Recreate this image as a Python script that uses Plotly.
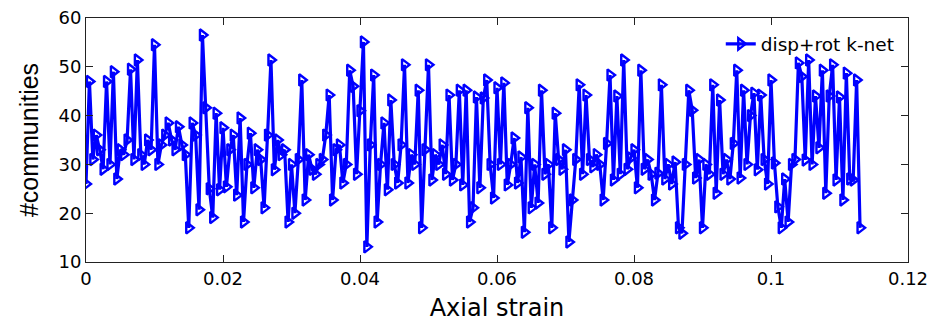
import plotly.graph_objects as go

# Axial strain (step 0.0005) and number of communities
strain = [round(i * 0.0005, 4) for i in range(227)]
communities = [
    26, 47, 31, 36, 33, 29, 47, 30, 49, 27,
    33, 32, 35, 49.5, 31, 51.4, 32, 30, 35, 33,
    54.5, 30, 34, 36, 38.5, 35, 33, 37.7, 34, 32,
    17, 38.5, 36, 20.7, 56.5, 41.6, 25, 19.1, 40.5, 24.8,
    37.5, 25.4, 33, 36, 23.7, 39.5, 18.2, 30, 36.4, 25.2,
    33, 31, 21.1, 36, 51.4, 28.9, 35, 32, 33, 18.2,
    30, 20, 31, 47.3, 22.7, 32, 29, 28, 30, 31,
    36, 44.2, 22.7, 33, 34, 26.2, 30, 49.3, 46, 28,
    41, 55.1, 13.1, 34, 48.3, 18.2, 30, 38.5, 24.8, 43.2,
    30, 26.2, 34, 50.4, 26.2, 32, 30, 45.2, 17, 33,
    50.4, 26.8, 32, 30, 34, 28, 44.2, 26.8, 30, 45.2,
    25.8, 45.2, 18.2, 21.1, 43.8, 25.2, 43.6, 47.3, 30, 23.1,
    45.7, 30, 46.7, 25.8, 30, 35.4, 26.2, 31.5, 16.1, 41.6,
    21.1, 30, 22.1, 45.2, 28, 30, 17, 40.5, 31, 29,
    33, 14.1, 22.7, 31, 46.3, 28, 44.2, 31, 29.5, 32,
    30, 22.7, 34.3, 48.3, 26.8, 44, 28, 51.4, 29, 31.3,
    33, 25.2, 49.3, 29, 31, 28, 22.7, 28.2, 46.3, 27,
    30, 26, 30.5, 17, 15.9, 30, 45.2, 41.1, 27.2, 31,
    17, 30, 28, 46.3, 24.1, 43.2, 28, 31, 27, 34.3,
    49.3, 27.2, 45.2, 30, 40, 44.6, 28.9, 44.2, 31, 26,
    47.3, 30.3, 21.3, 17, 27, 18.2, 30, 31, 50.8, 48,
    30.9, 51.4, 30, 44, 33.4, 49.3, 24.1, 44, 50.4, 26.8,
    43.8, 22.7, 48.7, 27, 26.8, 47.3, 17,
]

x_ticks = [0, 0.02, 0.04, 0.06, 0.08, 0.1, 0.12]
x_ticktext = ["0", "0.02", "0.04", "0.06", "0.08", "0.1", "0.12"]
y_ticks = [10, 20, 30, 40, 50, 60]

blue = "rgb(0,0,255)"
wide_font = "DejaVu Sans, Verdana, sans-serif"
narrow_font = "Liberation Sans, Arial, sans-serif"

fig = go.Figure()
fig.add_trace(go.Scatter(
    x=strain, y=communities, mode="lines+markers", name="disp+rot k-net",
    line=dict(color=blue, width=3.2),
    marker=dict(symbol="triangle-right-open", size=10, color=blue,
                line=dict(color=blue, width=2.4)),
))

axis_common = dict(
    showline=True, linecolor="#222222", linewidth=1, mirror="ticks",
    ticks="inside", ticklen=7, tickcolor="#222222", showgrid=False,
    zeroline=False, automargin=False, ticklabeloverflow="allow",
    tickfont=dict(size=18, color="black", family=wide_font),
)

# The page body adds an 8px offset, so the figure is 8px smaller on each side
fig.update_layout(
    width=930, height=314,
    margin=dict(l=78, r=30, t=10, b=60, autoexpand=False),
    paper_bgcolor="white", plot_bgcolor="white",
    font=dict(family=wide_font, color="black"),
    xaxis=dict(range=[0, 0.12], tickvals=x_ticks, ticktext=x_ticktext,
               title=dict(text="Axial strain",
                          font=dict(size=24, family=wide_font), standoff=14),
               **axis_common),
    yaxis=dict(range=[10, 60], tickvals=y_ticks,
               title=dict(text="#communities",
                          font=dict(size=25, family=narrow_font), standoff=12),
               **axis_common),
    legend=dict(x=0.99, y=0.97, xanchor="right", yanchor="top",
                bgcolor="rgba(0,0,0,0)", borderwidth=0,
                font=dict(size=18.5, family=wide_font)),
    showlegend=True,
)

fig.write_html("out.html")
